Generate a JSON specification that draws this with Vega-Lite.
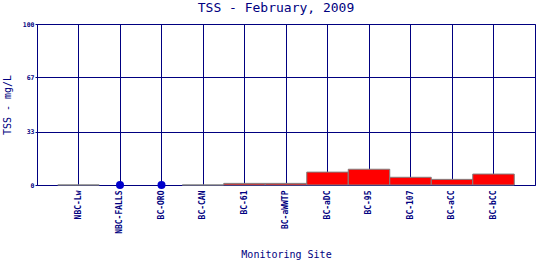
{
  "$schema": "https://vega.github.io/schema/vega-lite/v6.json",
  "width": 498,
  "height": 161,
  "autosize": "none",
  "padding": {"left": 37, "top": 24, "right": 5, "bottom": 75},
  "background": "white",
  "title": {
    "text": "TSS - February, 2009",
    "font": "DejaVu Sans Mono",
    "fontSize": 13,
    "fontWeight": "normal",
    "color": "#000080",
    "anchor": "middle",
    "dx": -10,
    "offset": 6
  },
  "data": {
    "values": [
      {"site": "NBC-Lw", "tss": 0, "kind": "bar"},
      {"site": "NBC-FALLS", "tss": 0, "kind": "dot"},
      {"site": "BC-ORO", "tss": 0, "kind": "dot"},
      {"site": "BC-CAN", "tss": 0, "kind": "bar"},
      {"site": "BC-61", "tss": 1, "kind": "bar"},
      {"site": "BC-aWWTP", "tss": 1, "kind": "bar"},
      {"site": "BC-aDC", "tss": 8, "kind": "bar"},
      {"site": "BC-95", "tss": 9.8, "kind": "bar"},
      {"site": "BC-107", "tss": 4.8, "kind": "bar"},
      {"site": "BC-aCC", "tss": 3.5, "kind": "bar"},
      {"site": "BC-bCC", "tss": 6.8, "kind": "bar"}
    ]
  },
  "encoding": {
    "x": {
      "field": "site",
      "type": "nominal",
      "sort": ["NBC-Lw", "NBC-FALLS", "BC-ORO", "BC-CAN", "BC-61", "BC-aWWTP", "BC-aDC", "BC-95", "BC-107", "BC-aCC", "BC-bCC"],
      "scale": {"type": "band", "paddingInner": 0, "paddingOuter": 0.5},
      "axis": {
        "title": "Monitoring Site",
        "titleFont": "DejaVu Sans Mono",
        "titleFontSize": 10,
        "titleFontWeight": "normal",
        "titleColor": "#000080",
        "titlePadding": 16,
        "labelAngle": -90,
        "labelFont": "DejaVu Sans Mono",
        "labelFontSize": 8,
        "labelFontWeight": "bold",
        "labelColor": "#000080",
        "labelPadding": 5,
        "ticks": false,
        "grid": true,
        "gridColor": "#000080",
        "gridOpacity": 1,
        "gridWidth": 1,
        "domain": false
      }
    },
    "y": {
      "field": "tss",
      "type": "quantitative",
      "scale": {"domain": [0, 100], "nice": false},
      "axis": {
        "title": "TSS - mg/L",
        "titleFont": "DejaVu Sans Mono",
        "titleFontSize": 10,
        "titleFontWeight": "normal",
        "titleColor": "#000080",
        "titlePadding": 10,
        "values": [0, 33, 67, 100],
        "labelFont": "DejaVu Sans Mono",
        "labelFontSize": 6.5,
        "labelFontWeight": "bold",
        "labelColor": "#000080",
        "labelPadding": 1,
        "tickSize": 2,
        "tickColor": "#000080",
        "grid": true,
        "gridColor": "#000080",
        "gridOpacity": 1,
        "domainColor": "#000080"
      }
    }
  },
  "layer": [
    {
      "transform": [{"filter": "datum.kind === 'bar'"}],
      "mark": {"type": "bar", "color": "#ff0000", "stroke": "#808080", "strokeWidth": 1}
    },
    {
      "transform": [{"filter": "datum.kind === 'dot'"}],
      "mark": {"type": "point", "filled": true, "color": "#0000cc", "size": 64, "opacity": 1}
    }
  ],
  "config": {
    "view": {"stroke": "#000080", "strokeWidth": 1}
  }
}
